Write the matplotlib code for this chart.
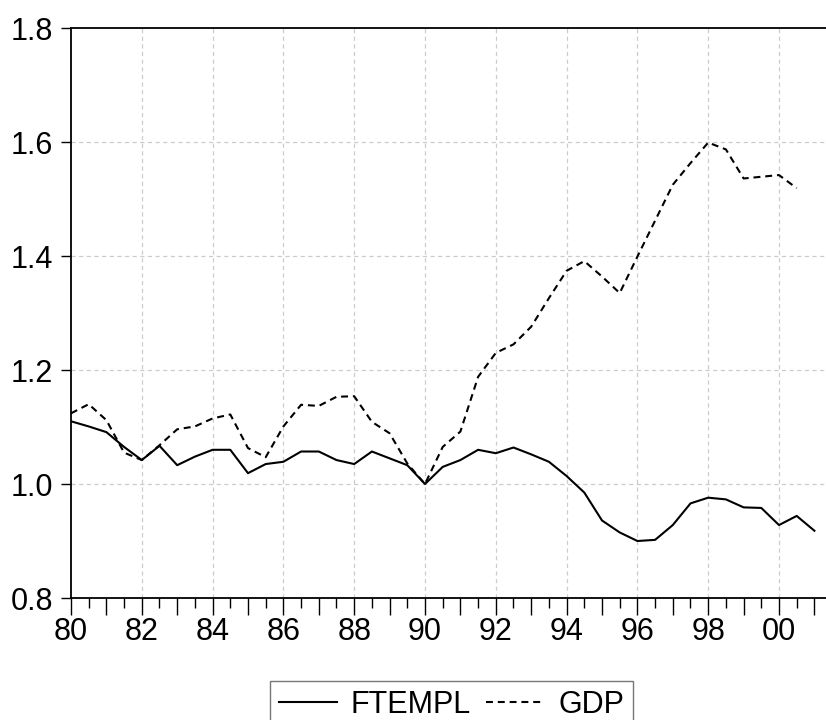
import numpy as np
import matplotlib.pyplot as plt

plt.rcParams['font.family'] = ['Liberation Sans', 'DejaVu Sans']
plt.rcParams['lines.scale_dashes'] = False

# semi-annual observations, 1980H1 .. 2001H1
ftempl = [1.110, 1.101, 1.091, 1.065, 1.042, 1.067, 1.033, 1.048, 1.060, 1.060,
          1.019, 1.035, 1.039, 1.057, 1.057, 1.042, 1.035, 1.057, 1.045, 1.033,
          1.000, 1.030, 1.042, 1.060, 1.054, 1.064, 1.052, 1.039, 1.014, 0.985,
          0.936, 0.915, 0.900, 0.902, 0.928, 0.966, 0.976, 0.973, 0.959, 0.958,
          0.928, 0.944, 0.918]
gdp = [1.124, 1.140, 1.112, 1.055, 1.042, 1.068, 1.096, 1.101, 1.115, 1.122,
       1.063, 1.047, 1.101, 1.139, 1.137, 1.153, 1.154, 1.109, 1.089, 1.036,
       1.000, 1.065, 1.092, 1.188, 1.230, 1.245, 1.276, 1.326, 1.374, 1.391,
       1.364, 1.335, 1.399, 1.462, 1.525, 1.563, 1.599, 1.587, 1.536, 1.539,
       1.542, 1.519]
t_ftempl = 1980 + 0.5 * np.arange(len(ftempl))
t_gdp = 1980 + 0.5 * np.arange(len(gdp))

yticks = [0.8, 1.0, 1.2, 1.4, 1.6, 1.8]
xlabel_years = list(range(1980, 2001, 2))

fig = plt.figure(figsize=(8.26, 7.2), dpi=100)
ax = fig.add_axes([71/826, 1 - 598/720, 1 - 71/826, (598 - 28)/720])

# grid (only at labelled years)
for x in xlabel_years[1:]:
    ax.axvline(x, color='#cccccc', lw=0.9, ls=(0, (3, 2.5)), zorder=0)
for y in yticks[1:-1]:
    ax.axhline(y, color='#cccccc', lw=0.9, ls=(0, (3, 2.5)), zorder=0)

l1, = ax.plot(t_ftempl, ftempl, color='black', lw=1.5, label='FTEMPL')
l2, = ax.plot(t_gdp, gdp, color='black', lw=1.5, ls=(0, (5, 3.5)), label='GDP')

ax.set_xlim(1980, 1980 + (826 - 71) / 35.4)
ax.set_ylim(0.8, 1.8)
ax.set_yticks(yticks)
ax.set_yticklabels([f'{v:.1f}' for v in yticks])

years = list(range(1980, 2002))
ax.set_xticks(years)
ax.set_xticklabels([f'{y % 100:02d}' if y % 2 == 0 else '' for y in years])
ax.set_xticks([y + 0.5 for y in range(1980, 2001)], minor=True)

ax.tick_params(axis='both', labelsize=22, color='black')
ax.tick_params(axis='x', which='major', length=12, width=1, pad=2)
ax.tick_params(axis='x', which='minor', length=7, width=1)
ax.tick_params(axis='y', which='major', length=7, width=1, pad=6)

for s in ['left', 'bottom', 'top']:
    ax.spines[s].set_linewidth(1.3)
ax.spines['right'].set_visible(False)

leg = fig.legend(handles=[l1, l2], loc='upper center', ncol=2,
                 bbox_to_anchor=(451.5/826, 1 - 681/720), fontsize=22,
                 frameon=True, fancybox=False, edgecolor='#555555',
                 handlelength=1.9, handletextpad=0.45, columnspacing=0.5,
                 borderpad=0.3, borderaxespad=0)
leg.get_frame().set_linewidth(1.0)

fig.savefig('out.png', dpi=100)
